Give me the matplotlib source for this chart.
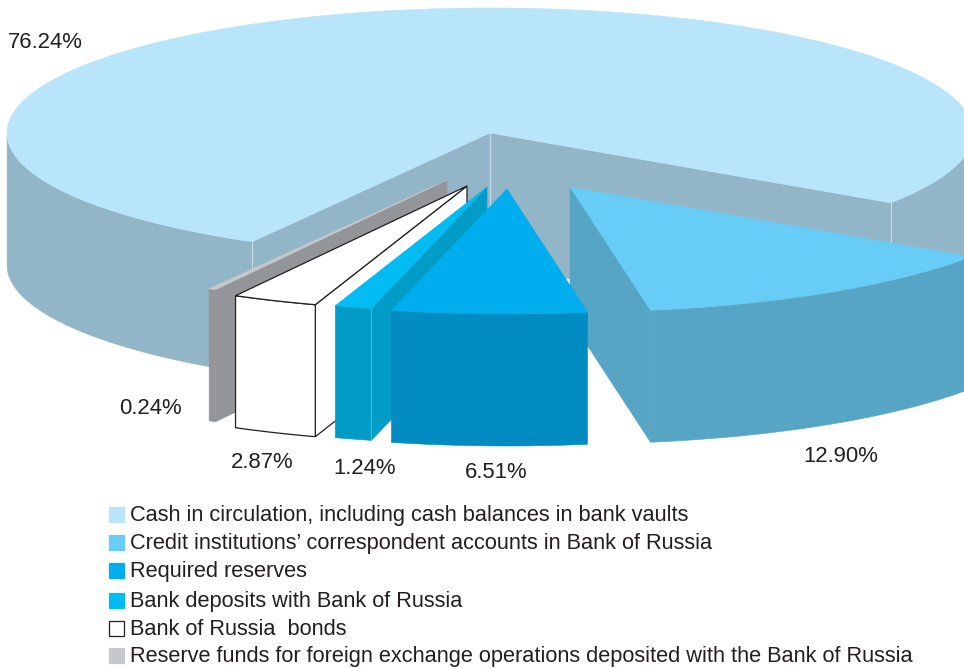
import numpy as np
import matplotlib.pyplot as plt
from matplotlib.patches import Polygon, Rectangle

plt.rcParams['font.family'] = ['Liberation Sans', 'DejaVu Sans']

# --- Data ---
categories = [
    'Cash in circulation, including cash balances in bank vaults',
    'Credit institutions\u2019 correspondent accounts in Bank of Russia',
    'Required reserves',
    'Bank deposits with Bank of Russia',
    'Bank of Russia  bonds',
    'Reserve funds for foreign exchange operations deposited with the Bank of Russia',
]
shares = [76.24, 12.90, 6.51, 1.24, 2.87, 0.24]

# --- Styles and layout (pixel space of the picture) ---
top_colors = ['#B8E5FA', '#68CDF6', '#00AEEF', '#00BCF2', '#FFFFFF', '#C7C8CA']
side_colors = ['#93B5C8', '#56A5C4', '#008CC0', '#009CC6', '#FFFFFF', '#939598']
explode_x = [0, 80, 17, -3, -23, -43]
explode_y = [0, 54, 56, 54, 53, 47]
label_x = [8, 803, 465, 333, 231, 119]
label_y = [43, 457, 473, 468, 462, 409]
legend_y = [514, 542, 570, 600, 628, 655]
draw_order = [0, 1, 5, 4, 3, 2]

CX, CY = 490, 133
RX, RY = 483, 125
DEPTH = 132
START = 240.5


def project(theta, dx, dy):
    return CX + dx + RX * np.cos(theta), CY + dy - RY * np.sin(theta)


def draw_slice(ax, a0, a1, dx, dy, top, side, edge, z):
    side_kw = dict(linewidth=0.9, edgecolor='#231F20') if edge else dict(linewidth=0.4, edgecolor=side)
    top_kw = dict(linewidth=0.9, edgecolor='#231F20') if edge else dict(linewidth=0.4, edgecolor=top)

    # radial walls that face the viewer
    apex = np.array([CX + dx, CY + dy])
    for a, visible in ((a0, np.cos(a0) < 0), (a1, np.cos(a1) > 0)):
        if visible:
            rim = np.array(project(a, dx, dy))
            wall = [apex, rim, rim + [0, DEPTH], apex + [0, DEPTH]]
            ax.add_patch(Polygon(wall, closed=True, facecolor=side, zorder=z, **side_kw))

    # outer wall, only the front half of the rim
    t = np.linspace(a0, a1, 200)
    idx = np.flatnonzero(np.sin(t) <= 0)
    if len(idx):
        for run in np.split(idx, np.flatnonzero(np.diff(idx) > 1) + 1):
            x, y = project(t[run], dx, dy)
            pts = np.r_[np.c_[x, y], np.c_[x, y + DEPTH][::-1]]
            ax.add_patch(Polygon(pts, closed=True, facecolor=side, zorder=z, **side_kw))

    # top face
    x, y = project(t, dx, dy)
    pts = np.r_[[apex], np.c_[x, y]]
    ax.add_patch(Polygon(pts, closed=True, facecolor=top, zorder=z + 0.2, **top_kw))


fig = plt.figure(figsize=(9.64, 6.68), dpi=100)
ax = fig.add_axes([0, 0, 1, 1])
ax.set_xlim(0, 964)
ax.set_ylim(668, 0)
ax.axis('off')

sweeps = np.radians(np.array(shares) * 3.6)
starts = np.radians(START) - np.r_[0, np.cumsum(sweeps)[:-1]]
ends = starts - sweeps

for z, i in enumerate(draw_order, start=1):
    draw_slice(ax, starts[i], ends[i], explode_x[i], explode_y[i],
               top_colors[i], side_colors[i], top_colors[i] == '#FFFFFF', z)
    if i == 0:
        # pale seams on the walls of the big slice
        for a in (starts[0], ends[0]):
            x, y = project(a, 0, 0)
            ax.plot([x, x], [y, y + DEPTH], color='#C4DCE8', lw=0.8, zorder=z + 0.1)
        ax.plot([CX, CX], [CY, CY + DEPTH], color='#C4DCE8', lw=0.8, zorder=z + 0.1)
    if i == 3:
        x, y = project(starts[3], explode_x[3], explode_y[3])
        ax.plot([x, x], [y, y + DEPTH], color='#5FBAD8', lw=0.6, zorder=z + 0.1)

# --- Value labels ---
for v, x, y in zip(shares, label_x, label_y):
    ax.text(x, y, f'{v:.2f}%', fontsize=15.9, color='#231F20', ha='left', va='center', zorder=10)

# --- Legend ---
for name, color, y in zip(categories, top_colors, legend_y):
    is_white = color == '#FFFFFF'
    ax.add_patch(Rectangle((109, y - 7.5), 15, 15, facecolor=color, zorder=10,
                           edgecolor='#231F20' if is_white else color, linewidth=0.9))
    ax.text(130, y + 1.5, name, fontsize=15.7, color='#231F20', ha='left', va='center', zorder=10)

fig.savefig('out.png', dpi=100)
